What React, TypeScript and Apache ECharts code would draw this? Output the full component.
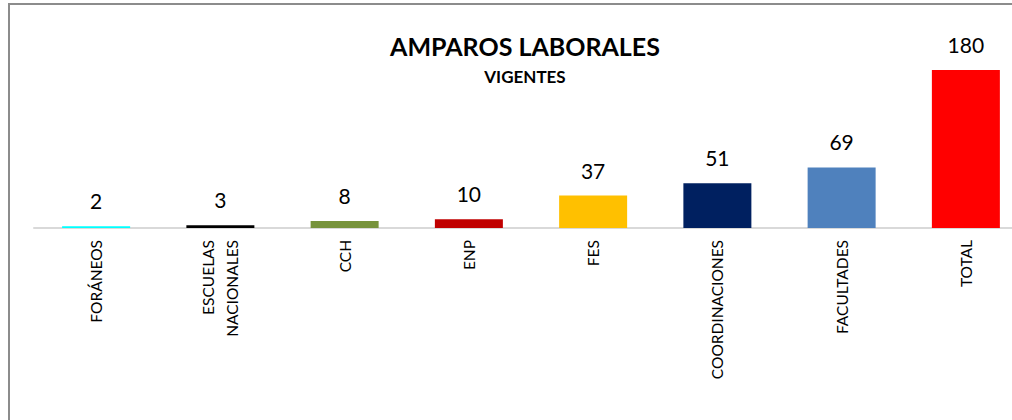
import React, { useEffect, useRef } from "react";
import * as echarts from "echarts";

const categories = ["FORÁNEOS", "ESCUELAS\nNACIONALES", "CCH", "ENP", "FES", "COORDINACIONES", "FACULTADES", "TOTAL"];
const values = [2, 3, 8, 10, 37, 51, 69, 180];
const colors = ["#00FFFF", "#000000", "#77933C", "#C00000", "#FFC000", "#002060", "#4F81BD", "#FF0000"];
const titleText = "AMPAROS LABORALES";
const subtitleText = "VIGENTES";

const FONT = "Lato, 'Open Sans', sans-serif";

export default function App() {
  const ref = useRef<HTMLDivElement>(null);
  useEffect(() => {
    if (!ref.current) return;
    const chart = echarts.init(ref.current, null, { renderer: "svg" });
    chart.setOption({
      animation: false,
      backgroundColor: "#ffffff",
      title: [
        { text: titleText, left: 520, top: 28, textAlign: "center", textStyle: { fontFamily: FONT, fontSize: 25, fontWeight: "bold", color: "#000" } },
        { text: subtitleText, left: 520, top: 63, textAlign: "center", textStyle: { fontFamily: FONT, fontSize: 17, fontWeight: "bold", color: "#000" } },
      ],
      graphic: [
        { type: "rect", shape: { x: 9, y: 4, width: 1100, height: 500 }, style: { fill: "none", stroke: "#8c8c8c", lineWidth: 2 }, z: 100 },
      ],
      grid: { left: 34, top: 52.4, width: 994, height: 175.6, containLabel: false },
      xAxis: {
        type: "category",
        data: categories,
        axisLine: { lineStyle: { color: "#d9d9d9", width: 2 } },
        axisTick: { show: false },
        axisLabel: { rotate: 90, margin: 12, fontFamily: FONT, fontSize: 15.5, color: "#000", lineHeight: 24, interval: 0 },
      },
      yAxis: { type: "value", min: 0, max: 200, show: false, splitLine: { show: false } },
      series: [
        {
          type: "bar",
          barWidth: 68,
          data: values.map((v, i) => ({ value: v, itemStyle: { color: colors[i] } })),
          label: { show: true, position: "top", distance: 15, fontFamily: FONT, fontSize: 21, color: "#000" },
        },
      ],
    });
    return () => chart.dispose();
  }, []);
  return (
    <div style={{ position: "fixed", left: 0, top: 0, width: 1012, height: 420, overflow: "hidden" }}>
      <div ref={ref} style={{ width: 1040, height: 420 }} />
    </div>
  );
}
